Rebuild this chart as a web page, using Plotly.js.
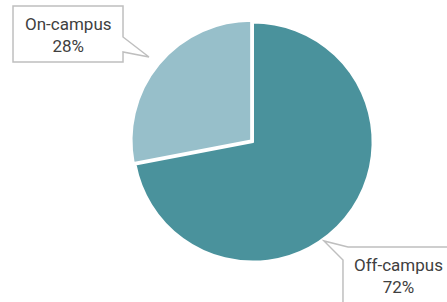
<!DOCTYPE html>
<html>
<head>
<meta charset="utf-8">
<script src="https://cdn.plot.ly/plotly-3.0.1.min.js"></script>
<style>html,body{margin:0;padding:0;background:#fff;}#chart{width:447px;height:302px;}</style>
</head>
<body>
<div id="chart"></div>
<script>
var labels = ['Off-campus', 'On-campus'];
var values = [72, 28];
var colors = ['#4A929C', '#97BFCA'];
var pulls = [0, 0.02];

var W = 447, H = 302;
function px(x) { return x / W; }
function py(y) { return 1 - y / H; }
function path(pts) {
  return 'M' + pts.map(function (p) { return px(p[0]).toFixed(4) + ',' + py(p[1]).toFixed(4); }).join(' L') + ' Z';
}

var calloutStyle = {type: 'path', xref: 'paper', yref: 'paper', fillcolor: '#ffffff',
  line: {color: '#BFBFBF', width: 1.5}, layer: 'above'};

var shapes = [
  Object.assign({}, calloutStyle, {path: path([[13,6],[123,6],[123,37],[149,57],[123,52],[123,62],[13,62]])}),
  Object.assign({}, calloutStyle, {path: path([[348,247],[452,247],[452,306],[343,306],[343,260],[324,241]])})
];

var textPos = {'On-campus': [68, 35], 'Off-campus': [398, 276]};
var annotations = labels.map(function (l, i) {
  return {xref: 'paper', yref: 'paper', x: px(textPos[l][0]), y: py(textPos[l][1]),
    xanchor: 'center', yanchor: 'middle', showarrow: false, align: 'center',
    text: l + '<br>' + values[i] + '%',
    font: {family: 'Roboto, sans-serif', size: 17, color: '#404040'}};
});

var trace = {
  type: 'pie', labels: labels, values: values, sort: false, direction: 'clockwise', rotation: 0,
  pull: pulls, textinfo: 'none', hoverinfo: 'none',
  marker: {colors: colors, line: {color: '#ffffff', width: 2}},
  domain: {x: [px(131), px(375)], y: [py(264), py(20)]}
};

Plotly.newPlot('chart', [trace], {
  width: W, height: H, margin: {l: 0, r: 0, t: 0, b: 0},
  paper_bgcolor: '#ffffff', showlegend: false,
  shapes: shapes, annotations: annotations
}, {staticPlot: true});
</script>
</body>
</html>
